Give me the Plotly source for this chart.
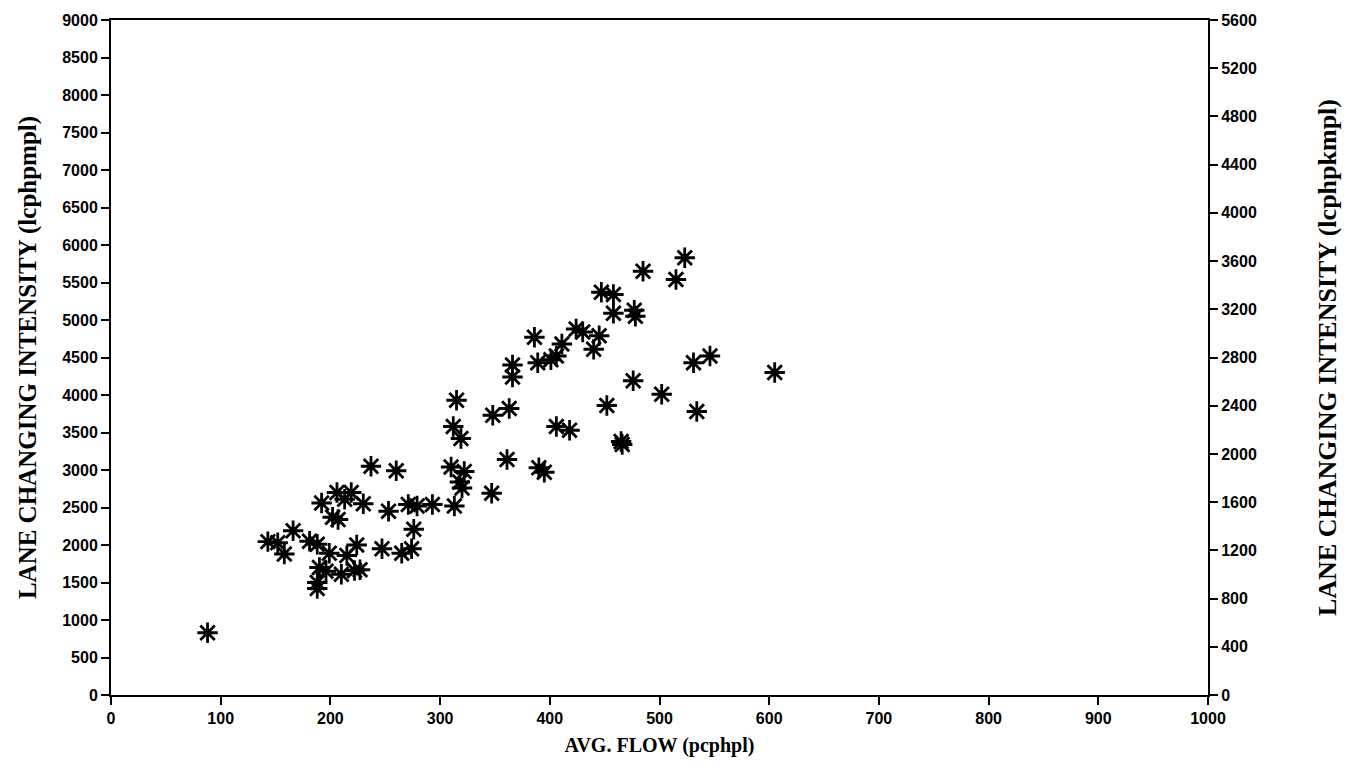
import plotly.graph_objects as go

# Average flow (pcphpl) and lane changing intensity (lcphpmpl)
avg_flow = [88, 143, 152, 158, 166, 181, 188, 188, 188, 190, 192, 196, 199, 202, 206,
            207, 210, 213, 215, 219, 222, 224, 227, 230, 237, 247, 253, 260, 265, 271,
            274, 276, 279, 293, 310, 312, 313, 315, 318, 319, 320, 322, 347, 348, 361,
            363, 366, 366, 386, 389, 390, 395, 401, 406, 406, 411, 418, 424, 430, 440,
            445, 447, 452, 458, 458, 465, 466, 476, 477, 478, 485, 502, 515, 523, 531,
            534, 546, 605]
lc_intensity = [830, 2045, 2030, 1880, 2190, 2050, 2010, 1420, 1500, 1700, 2560, 1650, 1890, 2370, 2700,
                2340, 1610, 2610, 1860, 2700, 1660, 2000, 1670, 2550, 3050, 1950, 2450, 2990, 1890, 2540,
                1950, 2210, 2520, 2540, 3040, 3580, 2520, 3930, 2840, 3420, 2760, 2980, 2690, 3730, 3140,
                3820, 4400, 4240, 4770, 4430, 3030, 2970, 4470, 4520, 3580, 4680, 3530, 4880, 4840, 4610,
                4790, 5370, 3860, 5340, 5090, 3380, 3340, 4190, 5130, 5050, 5650, 4010, 5540, 5830, 4430,
                3780, 4520, 4300]

x_ticks = [0, 100, 200, 300, 400, 500, 600, 700, 800, 900, 1000]
y_ticks = [0, 500, 1000, 1500, 2000, 2500, 3000, 3500, 4000, 4500, 5000, 5500,
           6000, 6500, 7000, 7500, 8000, 8500, 9000]
y2_ticks = [0, 400, 800, 1200, 1600, 2000, 2400, 2800, 3200, 3600, 4000, 4400,
            4800, 5200, 5600]
MI_PER_KM = 1 / 1.609344

tick_font = dict(family="Liberation Sans", size=16, color="black", weight="bold")
xtitle_font = dict(family="Liberation Serif", size=20, color="black", weight="bold")
ytitle_font = dict(family="Liberation Serif", size=25, color="black", weight="bold")
y2title_font = dict(family="Liberation Serif", size=26, color="black", weight="bold")

fig = go.Figure()
fig.add_trace(go.Scatter(
    x=avg_flow, y=lc_intensity, mode="markers",
    marker=dict(symbol="asterisk-open", size=17, color="black",
                line=dict(color="black", width=2.8)),
    showlegend=False, hoverinfo="x+y"))
fig.add_trace(go.Scatter(
    x=avg_flow, y=[v * MI_PER_KM for v in lc_intensity], yaxis="y2",
    mode="markers", marker=dict(opacity=0), showlegend=False, hoverinfo="skip"))

axis_common = dict(ticks="outside", ticklen=8, tickwidth=2, tickcolor="black",
                   showline=True, linecolor="black", linewidth=2,
                   showgrid=False, zeroline=False, tickfont=tick_font)

fig.update_layout(
    width=1363, height=778,
    margin=dict(l=111, r=155, t=15, b=83),
    paper_bgcolor="white", plot_bgcolor="white",
    xaxis=dict(range=[0, 1000], tickvals=x_ticks, mirror=True, **axis_common,
               title=dict(text="AVG. FLOW (pcphpl)", font=xtitle_font, standoff=12)),
    yaxis=dict(range=[0, 9000], tickvals=y_ticks, **axis_common,
               title=dict(text="LANE CHANGING INTENSITY (lcphpmpl)", font=ytitle_font,
                          standoff=18)),
    yaxis2=dict(range=[0, 5600], tickvals=y2_ticks, overlaying="y", side="right",
                **axis_common,
                title=dict(text="LANE CHANGING INTENSITY (lcphpkmpl)", font=y2title_font,
                           standoff=62)),
)

fig.write_html("out.html", config={"displayModeBar": False},
               post_script="document.body.style.margin='0';")
